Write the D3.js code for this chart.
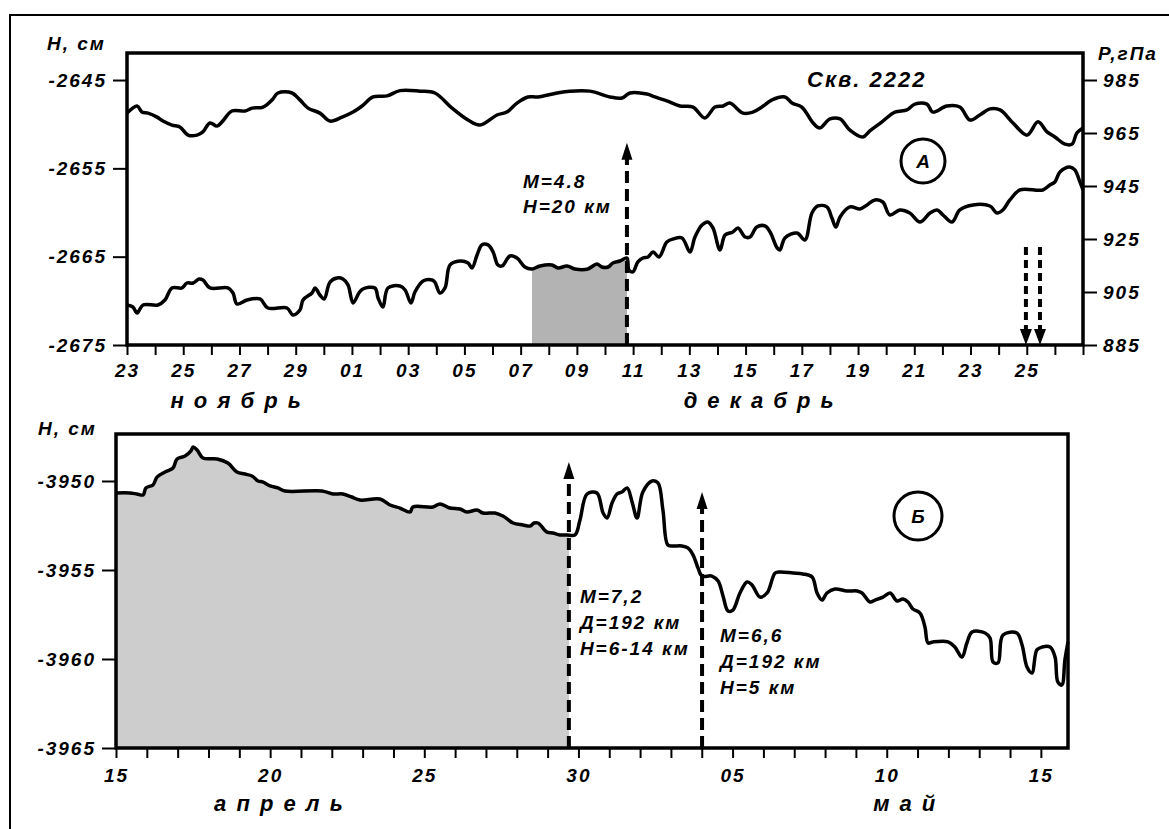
<!DOCTYPE html>
<html>
<head>
<meta charset="utf-8">
<script src="https://cdn.jsdelivr.net/npm/d3@7"></script>
<style>
  body { margin: 0; background: #fff; }
  svg text { font-family: "Liberation Sans", Arial, sans-serif; font-weight: bold; font-style: italic; letter-spacing: 2px; fill: #000; }
</style>
</head>
<body>
<svg id="chart" width="1169" height="829"></svg>
<script>
const DAY = 864e5;
const topStart = Date.UTC(2003, 10, 23);   // 23 Nov
const botStart = Date.UTC(2004, 3, 15);    // 15 Apr

// --- panel A: [days since 23 Nov, value] ---
const pressureTop = [
  [0,972.5],[0.36,975.2],[0.53,972.9],[0.75,972.5],[1.07,971.0],[1.28,969.5],[1.6,968.0],[1.88,967.3],[2.17,964.2],[2.49,964.2],
  [2.7,965.4],[2.95,968.8],[3.2,967.6],[3.38,969.2],[3.73,973.3],[4.2,973.3],[4.45,974.4],[4.84,974.8],[5.16,977.5],[5.37,980.1],
  [5.87,980.1],[6.15,977.5],[6.44,974.4],[6.86,972.5],[7.22,969.5],[7.65,971.0],[8.04,972.9],[8.36,975.2],[8.75,978.6],[9.25,979.0],
  [9.71,981.0],[10.42,980.8],[10.95,980.1],[11.56,974.4],[12.13,969.9],[12.55,968.0],[13.16,971.8],[13.51,972.9],[13.87,976.3],[14.26,978.6],
  [14.62,978.6],[15.29,980.1],[15.75,980.8],[16.47,980.8],[17.18,978.6],[17.6,978.2],[17.89,980.1],[18.49,979.7],[18.78,978.6],[19.2,977.1],
  [19.67,975.2],[20.13,974.8],[20.55,970.7],[20.91,974.8],[21.2,975.2],[21.44,976.3],[21.91,972.5],[22.26,972.9],[22.58,974.8],[22.94,977.5],
  [23.4,978.6],[23.65,976.3],[24,974.8],[24.4,968.8],[24.64,966.9],[25,970.3],[25.36,970.3],[25.71,966.1],[26.17,963.5],[26.42,965.8],
  [26.85,969.2],[27.31,972.9],[27.74,973.7],[28.02,975.9],[28.45,975.9],[28.66,972.9],[29.16,975.2],[29.62,974.8],[29.98,969.9],[30.33,971.8],
  [30.69,974.1],[31.05,973.7],[31.51,968.8],[32.01,964.2],[32.4,969.2],[32.72,965.4],[33,963.5],[33.36,960.8],[33.61,960.8],[33.78,965.0],[34,966.9]
];
const levelTop = [
  [0,-2670.47],[0.21,-2670.70],[0.36,-2671.38],[0.57,-2670.47],[1.10,-2670.47],[1.35,-2669.90],[1.60,-2668.54],[1.96,-2668.54],[2.13,-2667.98],[2.35,-2667.98],
  [2.56,-2667.53],[2.70,-2667.64],[2.95,-2668.54],[3.59,-2668.54],[3.77,-2669.11],[3.91,-2670.36],[4.27,-2669.90],[4.73,-2669.79],[5.01,-2670.81],[5.69,-2670.81],
  [5.90,-2671.60],[6.15,-2671.04],[6.26,-2669.90],[6.58,-2669.11],[6.69,-2668.54],[6.86,-2669.34],[7.01,-2669.79],[7.22,-2667.87],[7.47,-2667.41],[7.68,-2667.53],
  [7.86,-2668.20],[8.04,-2670.24],[8.25,-2669.11],[8.39,-2668.66],[8.82,-2668.54],[8.93,-2669.68],[9.10,-2670.70],[9.28,-2668.54],[9.71,-2668.32],[9.89,-2668.77],
  [10.10,-2670.24],[10.24,-2669.00],[10.53,-2667.75],[10.85,-2667.64],[10.95,-2667.87],[11.13,-2669.11],[11.31,-2668.54],[11.49,-2665.94],[11.84,-2665.49],[12.13,-2665.71],
  [12.27,-2666.28],[12.45,-2664.81],[12.62,-2663.67],[12.84,-2663.67],[13.02,-2664.47],[13.19,-2665.94],[13.34,-2666.05],[13.62,-2664.92],[13.87,-2665.15],[14.15,-2666.17],
  [14.40,-2666.39],[14.69,-2666.05],[15.11,-2665.94],[15.33,-2666.28],[15.65,-2666.05],[15.93,-2666.39],[16.39,-2666.39],[16.71,-2665.83],[16.89,-2666.17],[17.11,-2666.17],
  [17.28,-2665.71],[17.53,-2665.49],[17.78,-2665.15],[17.85,-2666.51],[17.99,-2666.73],[18.17,-2665.60],[18.35,-2665.15],[18.53,-2665.03],[18.71,-2664.47],[18.92,-2665.03],
  [19.20,-2663.34],[19.42,-2663.00],[19.74,-2662.88],[20.02,-2664.47],[20.20,-2662.77],[20.45,-2661.41],[20.66,-2661.07],[20.84,-2661.75],[21.09,-2664.24],[21.27,-2662.54],
  [21.55,-2662.20],[21.73,-2661.75],[21.98,-2662.77],[22.16,-2662.77],[22.40,-2661.64],[22.69,-2661.52],[22.87,-2662.20],[23.12,-2664.01],[23.22,-2664.24],[23.40,-2662.88],
  [23.83,-2662.32],[24.11,-2663.11],[24.36,-2660.05],[24.57,-2659.26],[24.89,-2659.37],[25.07,-2660.62],[25.21,-2661.64],[25.36,-2660.50],[25.71,-2659.37],[26.07,-2659.60],
  [26.32,-2659.14],[26.60,-2658.58],[26.88,-2658.81],[27.13,-2660.28],[27.49,-2659.71],[27.84,-2660.05],[28.20,-2661.07],[28.56,-2660.05],[28.81,-2659.71],[29.02,-2660.28],
  [29.34,-2661.07],[29.62,-2659.71],[30.09,-2659.14],[30.69,-2659.26],[30.94,-2660.05],[31.15,-2659.71],[31.40,-2658.58],[31.76,-2657.45],[32.57,-2657.45],[32.82,-2656.88],
  [33.00,-2656.54],[33.18,-2655.41],[33.53,-2654.84],[33.71,-2655.18],[33.89,-2656.54],[34.00,-2657.45]
];

// --- panel Б: [days since 15 Apr, value] ---
const levelBottom = [
  [0,-3950.67],[0.45,-3950.67],[0.68,-3950.73],[0.88,-3950.78],[0.97,-3950.39],[1.20,-3950.22],[1.33,-3949.78],[1.59,-3949.49],[1.85,-3949.27],[1.98,-3948.76],
  [2.24,-3948.60],[2.43,-3948.31],[2.50,-3948.09],[2.63,-3948.26],[2.82,-3948.71],[3.28,-3948.76],[3.63,-3948.99],[3.92,-3949.49],[4.18,-3949.61],[4.41,-3949.72],
  [4.61,-3950.00],[4.77,-3950.06],[5.00,-3950.28],[5.25,-3950.39],[5.48,-3950.56],[6.68,-3950.56],[7.04,-3950.73],[7.36,-3950.73],[7.65,-3950.90],[7.91,-3951.07],
  [8.56,-3951.01],[8.89,-3951.35],[9.21,-3951.52],[9.54,-3951.74],[9.63,-3951.46],[10.28,-3951.46],[10.51,-3951.29],[10.83,-3951.52],[11.16,-3951.57],[11.38,-3951.74],
  [11.71,-3951.63],[11.90,-3951.80],[12.29,-3951.80],[12.55,-3951.97],[12.88,-3952.36],[13.20,-3952.47],[13.43,-3952.53],[13.56,-3952.36],[13.69,-3952.36],[13.98,-3952.87],
  [14.17,-3952.92],[14.40,-3953.03],[14.63,-3953.03],[14.89,-3953.03],[15.05,-3952.19],[15.28,-3950.73],[15.60,-3950.67],[15.80,-3951.80],[15.93,-3952.08],[16.09,-3951.24],
  [16.25,-3950.73],[16.41,-3950.62],[16.58,-3950.39],[16.74,-3951.18],[16.90,-3952.08],[17.09,-3950.62],[17.39,-3950.00],[17.58,-3950.11],[17.74,-3951.63],[17.90,-3953.60],
  [18.07,-3953.65],[18.36,-3953.65],[18.55,-3953.76],[18.72,-3954.16],[18.88,-3954.89],[19.01,-3955.34],[19.33,-3955.34],[19.53,-3955.62],[19.69,-3956.46],[19.85,-3957.30],
  [20.01,-3957.25],[20.24,-3956.29],[20.47,-3955.67],[20.63,-3955.84],[20.89,-3956.52],[21.12,-3956.29],[21.38,-3955.17],[21.54,-3955.11],[21.96,-3955.17],[22.28,-3955.22],
  [22.58,-3955.39],[22.74,-3956.29],[22.90,-3956.69],[23.06,-3956.29],[23.32,-3956.07],[23.71,-3956.18],[24.04,-3956.18],[24.20,-3956.29],[24.46,-3956.80],[24.62,-3956.69],
  [24.88,-3956.52],[25.11,-3956.29],[25.33,-3956.74],[25.53,-3956.63],[25.69,-3956.80],[25.85,-3957.19],[26.08,-3957.42],[26.24,-3958.20],[26.34,-3959.10],[26.50,-3959.04],
  [26.99,-3959.04],[27.21,-3959.33],[27.44,-3959.89],[27.60,-3959.10],[27.77,-3958.48],[28.19,-3958.54],[28.35,-3958.82],[28.45,-3960.17],[28.61,-3960.22],[28.77,-3958.65],
  [29.22,-3958.54],[29.39,-3959.21],[29.55,-3960.45],[29.71,-3960.79],[29.87,-3959.49],[30.04,-3959.33],[30.30,-3959.33],[30.46,-3959.89],[30.55,-3961.29],[30.68,-3961.46],
  [30.78,-3960.06],[30.88,-3959.04]
];

// ticks and labels
const topLevelTicks = [-2645, -2655, -2665, -2675];
const topPressTicks = [985, 965, 945, 925, 905, 885];
const botLevelTicks = [-3950, -3955, -3960, -3965];
const topDayLabels = ["23","25","27","29","01","03","05","07","09","11","13","15","17","19","21","23","25"];
const botDayLabels = ["15","20","25","30","05","10","15"];
const topMonths = [{ name: "н о я б р ь", day: 3.9 }, { name: "д е к а б р ь", day: 22.5 }];
const botMonths = [{ name: "а п р е л ь", day: 5.3 }, { name: "м а й", day: 25.6 }];

// events
const topEvent = { day: 17.78, tip: -2652.1, shadeFrom: 14.40, text: ["M=4.8", "H=20 км"] };
const topDotted = { days: [31.97, 32.47], from: -2663.9 };
const botEvents = [
  { day: 14.69, tip: -3948.93, text: ["M=7,2", "Д=192 км", "H=6-14 км"] },
  { day: 19.01, tip: -3950.62, text: ["M=6,6", "Д=192 км", "H=5 км"] }
];

const svg = d3.select("#chart");
const toDate = (start, d) => new Date(start + d * DAY);
const plain = d => String(d);   // "-2645", not "−2,645"

// scales
const xTop = d3.scaleUtc().domain([toDate(topStart, 0), toDate(topStart, 34)]).range([127, 1083]);
const yTop = d3.scaleLinear().domain([-2675, -2641.94]).range([345, 53]);
const pTop = d3.scaleLinear().domain([885, 995.19]).range([345, 53]);
const xBot = d3.scaleUtc().domain([toDate(botStart, 0), toDate(botStart, 30.88)]).range([116, 1068]);
const yBot = d3.scaleLinear().domain([-3965, -3947.36]).range([748, 434]);

// outer page frame
svg.append("path")
  .attr("d", "M10,829V15H1169")
  .attr("fill", "none").attr("stroke", "#000").attr("stroke-width", 2);

function styleAxis(g) {
  g.attr("font-size", 19).attr("font-family", null);
  g.select(".domain").remove();
  g.selectAll("line").attr("stroke-width", 2);
}

function drawPanel(p) {
  const [x0, x1] = p.x.range();
  const [yb, yt] = p.y.range();
  const fx = d => p.x(toDate(p.start, d[0]));

  // shaded interval under the curve
  const clipId = "clip" + p.id;
  svg.append("clipPath").attr("id", clipId)
    .append("rect")
    .attr("x", p.x(toDate(p.start, p.shade[0])))
    .attr("y", yt)
    .attr("width", p.x(toDate(p.start, p.shade[1])) - p.x(toDate(p.start, p.shade[0])))
    .attr("height", yb - yt);
  svg.append("path")
    .datum(p.level)
    .attr("clip-path", "url(#" + clipId + ")")
    .attr("fill", p.shadeColor)
    .attr("d", d3.area().x(fx).y0(yb).y1(d => p.y(d[1])).curve(d3.curveCatmullRom.alpha(0.5)));

  // curves
  p.series.forEach(s => {
    svg.append("path")
      .datum(s.data)
      .attr("fill", "none")
      .attr("stroke", "#000")
      .attr("stroke-width", 3.5)
      .attr("stroke-linejoin", "round")
      .attr("d", d3.line().x(fx).y(d => s.scale(d[1])).curve(d3.curveCatmullRom.alpha(0.5)));
  });

  // axes
  svg.append("g").attr("transform", `translate(${x0},0)`)
    .call(d3.axisLeft(p.y).tickValues(p.yTicks).tickSize(14).tickPadding(6).tickFormat(plain))
    .call(styleAxis);

  const dayTicks = d3.range(0, p.nTicks).map(i => toDate(p.start, i));
  svg.append("g").attr("transform", `translate(0,${yb})`)
    .call(d3.axisBottom(p.x).tickValues(dayTicks).tickSize(10).tickPadding(p.xPad)
      .tickFormat((d, i) => (i % p.labelEvery === 0 && i / p.labelEvery < p.dayLabels.length) ? p.dayLabels[i / p.labelEvery] : ""))
    .call(styleAxis);

  // frame
  svg.append("rect")
    .attr("x", x0).attr("y", yt).attr("width", x1 - x0).attr("height", yb - yt)
    .attr("fill", "none").attr("stroke", "#000").attr("stroke-width", 3.5);

  // month names
  p.months.forEach(m => {
    svg.append("text")
      .attr("x", p.x(toDate(p.start, m.day)))
      .attr("y", p.monthY)
      .attr("text-anchor", "middle")
      .attr("font-size", 22)
      .text(m.name);
  });

  // y title
  svg.append("text").attr("x", p.titleX).attr("y", p.titleY).attr("font-size", 19).text("H, см");
}

function upArrow(x, yBase, yTip) {
  svg.append("line")
    .attr("x1", x).attr("x2", x).attr("y1", yBase).attr("y2", yTip + 14)
    .attr("stroke", "#000").attr("stroke-width", 4).attr("stroke-dasharray", "12,6");
  svg.append("path")
    .attr("d", `M${x},${yTip}L${x - 5.5},${yTip + 17}L${x + 5.5},${yTip + 17}Z`)
    .attr("fill", "#000");
}

function downArrow(x, yFrom, yTip) {
  svg.append("line")
    .attr("x1", x).attr("x2", x).attr("y1", yFrom).attr("y2", yTip - 12)
    .attr("stroke", "#000").attr("stroke-width", 4).attr("stroke-dasharray", "8,5");
  svg.append("path")
    .attr("d", `M${x},${yTip}L${x - 6},${yTip - 16}L${x + 6},${yTip - 16}Z`)
    .attr("fill", "#000");
}

function textBlock(x, y, lines, step) {
  const t = svg.append("text").attr("font-size", 19);
  lines.forEach((s, i) => t.append("tspan").attr("x", x).attr("y", y + i * step).text(s));
}

function circleLabel(cx, cy, r, letter) {
  svg.append("circle").attr("cx", cx).attr("cy", cy).attr("r", r)
    .attr("fill", "none").attr("stroke", "#000").attr("stroke-width", 3);
  svg.append("text").attr("x", cx).attr("y", cy + 7).attr("text-anchor", "middle")
    .attr("font-size", 19).style("letter-spacing", "0px").text(letter);
}

// ---------- panel A ----------
drawPanel({
  id: "A", start: topStart, x: xTop, y: yTop,
  level: levelTop, shade: [topEvent.shadeFrom, topEvent.day], shadeColor: "#b3b3b3",
  series: [{ data: pressureTop, scale: pTop }, { data: levelTop, scale: yTop }],
  yTicks: topLevelTicks, nTicks: 35, labelEvery: 2, dayLabels: topDayLabels, xPad: 9,
  months: topMonths, monthY: 408, titleX: 47, titleY: 50
});

svg.append("g").attr("transform", "translate(1083,0)")
  .call(d3.axisRight(pTop).tickValues(topPressTicks).tickSize(14).tickPadding(6).tickFormat(plain))
  .call(styleAxis);
svg.append("text").attr("x", 1098).attr("y", 60).attr("font-size", 19).text("P,гПа");
svg.append("text").attr("x", 807).attr("y", 87).attr("font-size", 22).text("Скв. 2222");
circleLabel(923, 161, 22, "A");

const exTop = xTop(toDate(topStart, topEvent.day));
upArrow(exTop, yTop(-2675), yTop(topEvent.tip));
textBlock(exTop - 104, 188, topEvent.text, 25);
topDotted.days.forEach(d => downArrow(xTop(toDate(topStart, d)), yTop(topDotted.from), yTop(-2675)));

// ---------- panel Б ----------
drawPanel({
  id: "B", start: botStart, x: xBot, y: yBot,
  level: levelBottom, shade: [0, botEvents[0].day], shadeColor: "#cdcdcd",
  series: [{ data: levelBottom, scale: yBot }],
  yTicks: botLevelTicks, nTicks: 31, labelEvery: 5, dayLabels: botDayLabels, xPad: 11,
  months: botMonths, monthY: 811, titleX: 38, titleY: 435
});
circleLabel(918, 516, 24, "Б");

botEvents.forEach((e, i) => {
  const ex = xBot(toDate(botStart, e.day));
  upArrow(ex, yBot(-3965), yBot(e.tip));
  textBlock(ex + (i === 0 ? 11 : 18), i === 0 ? 603 : 642, e.text, 26);
});
</script>
</body>
</html>
